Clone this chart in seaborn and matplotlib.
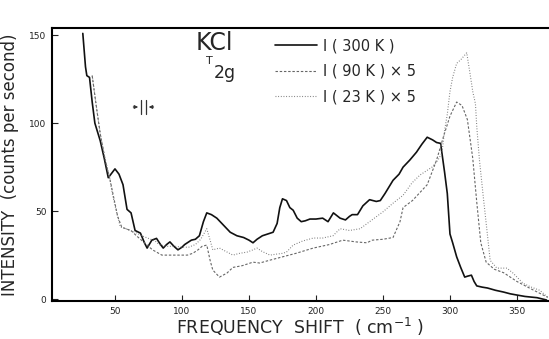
import numpy as np
import pandas as pd
import matplotlib
matplotlib.use("Agg")
import matplotlib.pyplot as plt
import seaborn as sns

# ---- data ----
x_300 = [26, 28, 29, 31, 33, 35, 39, 42, 45, 50, 53, 56, 59, 62, 65, 69, 72, 74, 77.5, 81, 84, 86,
         88.5, 91, 94, 97, 100, 102, 107, 110, 113, 116, 118.5, 122, 126, 131, 136, 141, 146, 150,
         153, 156, 160, 164, 168, 171, 173, 175, 178, 180.5, 183, 186, 189, 192, 195.5, 200, 205,
         209, 213, 218, 222, 225, 227, 231, 235, 240, 245, 248, 251.5, 257.5, 262, 265, 270, 275,
         279, 283, 287, 290, 293, 294, 296, 298, 300, 302, 305, 308, 311, 313, 316, 318, 320, 324,
         328, 334, 340, 345, 350, 356, 365, 372]
y_300 = [151, 132, 127, 126, 112, 100, 90, 80, 69, 74, 71, 65, 51, 49, 39, 37.5, 32, 29, 33.5, 34.5,
         31, 29, 31, 32.5, 30, 28, 29.5, 31, 33.5, 34, 36, 44, 49, 48, 46, 42, 38, 36, 35, 33.5,
         32, 34, 36, 37, 38, 43, 52, 57, 56, 52, 50.5, 46, 44, 44.5, 45.5, 45.5, 46,
         44, 49, 46, 45, 47, 48, 48, 53, 56.5, 55.5, 56, 60, 67.5, 71, 75, 79, 83.5,
         88, 92, 90.5, 89, 88.5, 83, 72, 60, 37, 32, 24, 18, 12.5, 13, 13.6, 10, 7.5, 6.8,
         6.3, 5, 4, 3, 2.3, 1.5, 0.8, -0.5]

x_90 = [33, 36, 39, 43, 46, 49, 52, 55, 58, 62, 66, 72, 78, 85, 92, 98, 104, 108, 112, 115, 118.5,
        121, 123, 128, 133.6, 138, 145, 153, 158, 165, 175, 185, 198, 210, 220, 230, 238, 242, 250,
        257.5, 262.7, 265, 272, 283, 290, 295, 300, 305, 309, 313, 317, 320, 323, 327, 333, 340,
        350, 360, 373]
y_90 = [127, 110, 94, 78, 69, 58, 47, 41, 40, 39, 36, 32, 28, 25, 25, 25, 25, 26, 28, 30, 30.7,
        22, 16.5, 12.5, 14.8, 18, 19, 21, 20.5, 22, 24, 26, 29, 31, 33.5, 32.5, 32, 33.5, 34,
        35, 44, 52, 56, 65, 79, 92, 104, 112, 110, 102, 80, 55, 32, 21, 17, 15,
        10, 6, 1]

x_23 = [33, 36, 39, 42, 46, 48, 51, 54, 58, 61, 65, 70, 75, 80, 83, 88, 95, 100, 105, 110, 114,
        118.5, 121, 123, 128, 133, 138, 143, 148.5, 153, 156, 160, 165.7, 170, 175, 178, 183, 190,
        198, 205, 212.7, 218, 225, 233, 240, 250, 257.5, 265, 271.6, 277.6, 286.6, 291, 294, 296,
        298, 300, 302, 305, 308, 312.5, 315, 317, 319, 320, 322, 324.6, 327.6, 330, 335, 342.5,
        347, 350, 354.5, 360, 367, 373]
y_23 = [127, 110, 94, 82, 69, 60, 50, 41, 40, 39, 38, 36, 34.5, 33, 31, 30, 30, 29.5, 29.5, 31, 34,
        40, 33.5, 28, 29, 27, 25, 26, 26.7, 28, 29, 27, 25, 25.5, 26, 26.7, 30.7, 33,
        34.7, 34.7, 36, 40, 39, 40, 44, 49.6, 54.5, 59, 66, 70.5, 75, 79, 83, 96,
        105, 118, 126, 134, 136, 140, 128, 118, 111, 98, 79, 60, 39, 22, 17.6, 17.6,
        14.8, 12.5, 9, 7, 5, 1]

labels = ["I ( 300 K )", "I ( 90 K ) × 5", "I ( 23 K ) × 5"]
x_ticks = [50, 100, 150, 200, 250, 300, 350]
y_ticks = [0, 50, 100, 150]

df = pd.concat([
    pd.DataFrame({"shift": x_300, "intensity": y_300, "series": labels[0]}),
    pd.DataFrame({"shift": x_90, "intensity": y_90, "series": labels[1]}),
    pd.DataFrame({"shift": x_23, "intensity": y_23, "series": labels[2]}),
], ignore_index=True)

sns.set_theme(style="ticks")
plt.rcParams["font.family"] = ["DejaVu Sans"]

fig = plt.figure(figsize=(5.49, 3.39), dpi=100)
ax = fig.add_axes([0.0947, 0.112, 0.9053, 0.805])

styles = {
    labels[0]: dict(color="#111111", linewidth=1.2, linestyle="-"),
    labels[1]: dict(color="#666666", linewidth=0.8, linestyle=(0, (2.2, 1.6))),
    labels[2]: dict(color="#777777", linewidth=0.8, linestyle=(0, (0.8, 1.6))),
}
for lab in labels:
    sub = df[df["series"] == lab]
    sns.lineplot(data=sub, x="shift", y="intensity", ax=ax, sort=False,
                 estimator=None, label=lab, **styles[lab])

ax.set_xlim(3, 373.9)
ax.set_ylim(-1.1, 154)
ax.set_xticks(x_ticks)
ax.set_xticklabels([str(v) for v in x_ticks])
ax.set_yticks(y_ticks)
ax.set_yticklabels([str(v) for v in y_ticks])
ax.tick_params(axis="both", direction="in", length=4, width=0.8, labelsize=6.5,
               colors="#222222", pad=4)

for s in ["top", "left", "bottom"]:
    ax.spines[s].set_linewidth(1.5)
    ax.spines[s].set_color("black")
ax.spines["right"].set_visible(False)

ax.set_xlabel("FREQUENCY  SHIFT  ( cm$^{-1}$ )", fontsize=12.5, labelpad=0)
ax.set_ylabel("INTENSITY  (counts per second)", fontsize=12, labelpad=7)

leg = ax.legend(loc="upper left", bbox_to_anchor=(0.449, 0.963), frameon=False,
                fontsize=10.5, handlelength=2.9, handletextpad=0.35,
                labelspacing=0.72, borderpad=0, borderaxespad=0)

ax.text(0.29, 0.945, "KCl", transform=ax.transAxes, fontsize=17,
        ha="left", va="center")
ax.text(0.31, 0.878, "T", transform=ax.transAxes, fontsize=8,
        ha="left", va="center")
ax.text(0.326, 0.835, "2g", transform=ax.transAxes, fontsize=12.5,
        ha="left", va="center")

# spectral slit width indicator
for fx in (0.179, 0.189):
    ax.plot([fx, fx], [0.685, 0.736], transform=ax.transAxes, color="#333333", lw=0.9)
ax.annotate("", xy=(0.179, 0.711), xytext=(0.158, 0.711), xycoords="axes fraction",
            arrowprops=dict(arrowstyle="-|>", color="#333333", lw=0.8, mutation_scale=5))
ax.annotate("", xy=(0.189, 0.711), xytext=(0.210, 0.711), xycoords="axes fraction",
            arrowprops=dict(arrowstyle="-|>", color="#333333", lw=0.8, mutation_scale=5))

fig.savefig("out.png", dpi=100)
